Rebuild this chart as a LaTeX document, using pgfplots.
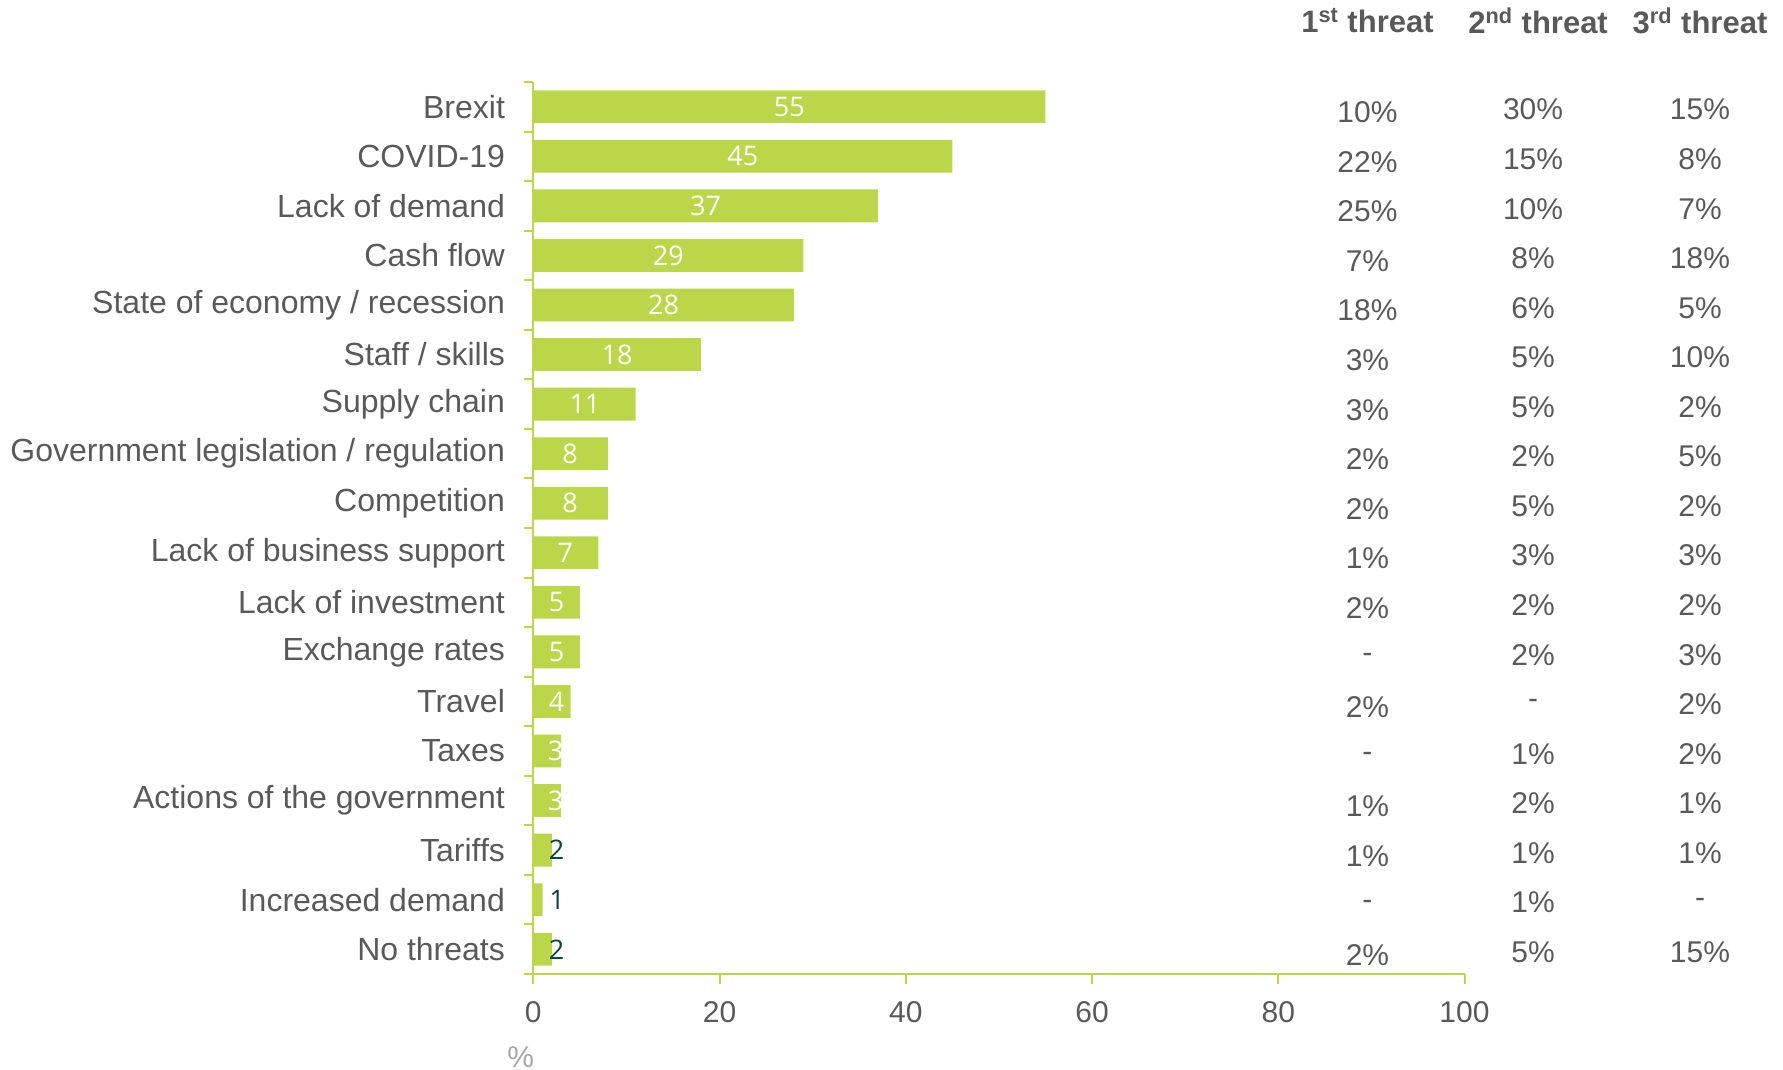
\documentclass[border=0pt]{standalone}
\usepackage{pgfplots}
\pgfplotsset{compat=1.18}
\usepackage{pgfplotstable}
\usepackage{fontspec}
\setmainfont{Liberation Sans}
\newfontfamily\barfont{Open Sans}
\definecolor{barc}{RGB}{188,214,73}
\definecolor{txt}{RGB}{89,89,89}
\definecolor{darkteal}{RGB}{10,70,58}
\definecolor{pctgray}{RGB}{166,166,166}

\pgfplotstableread{
i v
0 55
1 45
2 37
3 29
4 28
5 18
6 11
7 8
8 8
9 7
10 5
11 5
12 4
13 3
14 3
15 2
16 1
17 2
}\bars

\pgfplotstableread{
i v lx
0 55 27.5
1 45 22.5
2 37 18.5
3 29 14.5
4 28 14
5 18 9
6 11 5.55
7 8 3.95
8 8 3.95
9 7 3.45
10 5 2.5
11 5 2.5
12 4 2.5
13 3 2.4
14 3 2.4
}\inlab

\pgfplotstableread{
i v lx
15 2 2.5
16 1 2.55
17 2 2.5
}\outlab

\begin{document}
\begin{tikzpicture}
\path[use as bounding box] (0,0) rectangle (891.5pt,535pt);
\begin{axis}[
  at={(266.65pt,48pt)}, anchor=south west,
  scale only axis, width=465.6pt, height=446pt,
  xmin=0, xmax=100, ymin=-0.5, ymax=17.5, y dir=reverse,
  axis x line*=bottom, axis y line*=left,
  axis line style={barc, line width=1pt},
  xtick={0,20,...,100},
  ytick={0,...,17},
  yticklabels={Brexit, COVID-19, Lack of demand, Cash flow, State of economy / recession, Staff / skills, Supply chain, Government legislation / regulation, Competition, Lack of business support, Lack of investment, Exchange rates, Travel, Taxes, Actions of the government, Tariffs, Increased demand, No threats},
  minor ytick={-0.5,0.5,...,17.5},
  tick align=outside,
  major tick length=5pt, minor tick length=4.5pt,
  tick style={barc, line width=1pt},
  major y tick style={draw=none},
  ticklabel style={font=\fontsize{15}{18}\selectfont, text=txt, inner sep=0pt},
  yticklabel style={font=\fontsize{16}{19}\selectfont, xshift=-9pt},
  xticklabel style={yshift=-8.6pt},
  /pgf/number format/assume math mode=true,
  clip=false,
  bar width=16.4pt,
]
\addplot[xbar, fill=barc, draw=none] table[x=v, y=i] \bars;

\addplot[draw=none, mark=none, point meta=explicit symbolic,
  nodes near coords={\pgfplotspointmeta},
  nodes near coords style={font=\barfont\fontsize{13.5}{16}\selectfont, text=white, anchor=center, inner sep=0pt}]
  table[x=lx, y=i, meta=v] \inlab;
\addplot[draw=none, mark=none, point meta=explicit symbolic,
  nodes near coords={\pgfplotspointmeta},
  nodes near coords style={font=\barfont\fontsize{13.5}{16}\selectfont, text=darkteal, anchor=center, inner sep=0pt}]
  table[x=lx, y=i, meta=v] \outlab;

% 1st threat
\addplot[draw=none, mark=none, point meta=explicit symbolic,
  nodes near coords={\pgfplotspointmeta},
  nodes near coords style={font=\fontsize{15}{18}\selectfont, text=txt, anchor=center, inner sep=0pt, yshift=-2.8pt}]
  coordinates {(89.58,0)[10\%] (89.58,1)[22\%] (89.58,2)[25\%] (89.58,3)[7\%] (89.58,4)[18\%] (89.58,5)[3\%] (89.58,6)[3\%] (89.58,7)[2\%] (89.58,8)[2\%] (89.58,9)[1\%] (89.58,10)[2\%] (89.58,11)[-] (89.58,12)[2\%] (89.58,13)[-] (89.58,14)[1\%] (89.58,15)[1\%] (89.58,16)[-] (89.58,17)[2\%]};
% 2nd threat
\addplot[draw=none, mark=none, point meta=explicit symbolic,
  nodes near coords={\pgfplotspointmeta},
  nodes near coords style={font=\fontsize{15}{18}\selectfont, text=txt, anchor=center, inner sep=0pt, yshift=-1.4pt}]
  coordinates {(107.36,0)[30\%] (107.36,1)[15\%] (107.36,2)[10\%] (107.36,3)[8\%] (107.36,4)[6\%] (107.36,5)[5\%] (107.36,6)[5\%] (107.36,7)[2\%] (107.36,8)[5\%] (107.36,9)[3\%] (107.36,10)[2\%] (107.36,11)[2\%] (107.36,12)[-] (107.36,13)[1\%] (107.36,14)[2\%] (107.36,15)[1\%] (107.36,16)[1\%] (107.36,17)[5\%]};
% 3rd threat
\addplot[draw=none, mark=none, point meta=explicit symbolic,
  nodes near coords={\pgfplotspointmeta},
  nodes near coords style={font=\fontsize{15}{18}\selectfont, text=txt, anchor=center, inner sep=0pt, yshift=-1.4pt}]
  coordinates {(125.29,0)[15\%] (125.29,1)[8\%] (125.29,2)[7\%] (125.29,3)[18\%] (125.29,4)[5\%] (125.29,5)[10\%] (125.29,6)[2\%] (125.29,7)[5\%] (125.29,8)[2\%] (125.29,9)[3\%] (125.29,10)[2\%] (125.29,11)[3\%] (125.29,12)[2\%] (125.29,13)[2\%] (125.29,14)[1\%] (125.29,15)[1\%] (125.29,16)[-] (125.29,17)[15\%]};

\node[font=\bfseries\fontsize{15.5}{18}\selectfont, text=txt, anchor=center, inner sep=0pt] at (axis cs:89.58,-1.74) {1\textsuperscript{st} threat};
\node[font=\bfseries\fontsize{15.5}{18}\selectfont, text=txt, anchor=center, inner sep=0pt] at (axis cs:107.9,-1.74) {2\textsuperscript{nd} threat};
\node[font=\bfseries\fontsize{15.5}{18}\selectfont, text=txt, anchor=center, inner sep=0pt] at (axis cs:125.29,-1.74) {3\textsuperscript{rd} threat};
\node[font=\fontsize{15}{18}\selectfont, text=pctgray, anchor=center, inner sep=0pt] at (axis cs:-1.34,19.18) {\%};
\end{axis}
\end{tikzpicture}
\end{document}
